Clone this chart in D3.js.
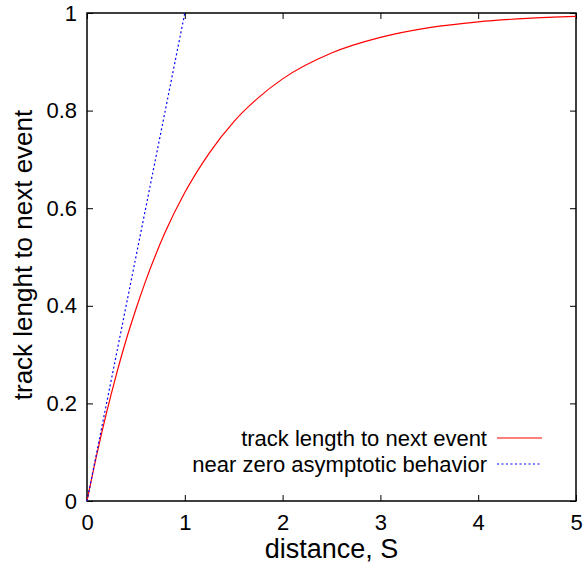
<!DOCTYPE html>
<html>
<head>
<meta charset="utf-8">
<script src="https://cdn.jsdelivr.net/npm/d3@7"></script>
<style>
  body { margin: 0; background: #fff; }
  text { font-family: "Liberation Sans", Arial, Helvetica, sans-serif; fill: #000; }
</style>
</head>
<body>
<svg id="chart" width="587" height="569"></svg>
<script>
// values
var curveX = [0, 0.1, 0.2, 0.3, 0.4, 0.5, 0.6, 0.8, 1.0, 1.25, 1.5, 1.75, 2.0, 2.5, 3.0, 3.5, 4.0, 4.5, 5.0];
var curveY = [0, 0.095, 0.181, 0.259, 0.33, 0.393, 0.451, 0.551, 0.632, 0.713, 0.777, 0.826, 0.865, 0.918, 0.95, 0.97, 0.982, 0.989, 0.993];
var asymX = [0, 1];
var asymY = [0, 1];
var xTicks = [0, 1, 2, 3, 4, 5];
var yTicks = [0, 0.2, 0.4, 0.6, 0.8, 1];
var seriesNames = ["track length to next event", "near zero asymptotic behavior"];

(function () {
    var marginLeft = 87, marginRight = 576, marginTop = 13, marginBottom = 501;
    var tickLen = 6;

    var svg = d3.select("#chart");
    var x = d3.scaleLinear().domain([0, 5]).range([marginLeft, marginRight]);
    var y = d3.scaleLinear().domain([0, 1]).range([marginBottom, marginTop]);

    // ticks on all four sides, gnuplot style
    var tickFmt = function(d) { return String(+d.toFixed(1)); };
    svg.append("g").attr("transform", "translate(0," + marginBottom + ")")
        .call(d3.axisBottom(x).tickValues(xTicks).tickSize(-tickLen).tickPadding(13).tickFormat(tickFmt));
    svg.append("g").attr("transform", "translate(0," + marginTop + ")")
        .call(d3.axisTop(x).tickValues(xTicks).tickSize(-tickLen).tickFormat(""));
    svg.append("g").attr("transform", "translate(" + marginLeft + ",0)")
        .call(d3.axisLeft(y).tickValues(yTicks).tickSize(-tickLen).tickPadding(10).tickFormat(tickFmt));
    svg.append("g").attr("transform", "translate(" + marginRight + ",0)")
        .call(d3.axisRight(y).tickValues(yTicks).tickSize(-tickLen).tickFormat(""));

    svg.selectAll(".domain").remove();
    svg.selectAll(".tick line").attr("stroke", "#000").attr("stroke-width", 1);
    svg.selectAll(".tick text").style("font-size", "22px")
        .style("font-family", "'Liberation Sans', Arial, sans-serif").attr("fill", "#000");

    svg.append("rect")
        .attr("x", marginLeft).attr("y", marginTop)
        .attr("width", marginRight - marginLeft).attr("height", marginBottom - marginTop)
        .attr("fill", "none").attr("stroke", "#000").attr("stroke-width", 1.5);

    var line = d3.line()
        .x(function(d) { return x(d[0]); })
        .y(function(d) { return y(d[1]); });

    svg.append("path")
        .datum(d3.zip(curveX, curveY))
        .attr("d", line.curve(d3.curveMonotoneX))
        .attr("fill", "none").attr("stroke", "#ff0000").attr("stroke-width", 1.2);

    svg.append("path")
        .datum(d3.zip(asymX, asymY))
        .attr("d", line.curve(d3.curveLinear))
        .attr("fill", "none").attr("stroke", "#0000ff").attr("stroke-width", 1.2)
        .attr("stroke-dasharray", "2,2.5");

    // legend
    var legendY = [438, 464];
    var styles = [{stroke: "#ff0000", dash: null}, {stroke: "#0000ff", dash: "2,2.5"}];
    seriesNames.forEach(function(name, i) {
        svg.append("text")
            .attr("x", 487).attr("y", legendY[i] + 8)
            .attr("text-anchor", "end")
            .style("font-size", "22px")
            .text(name);
        svg.append("line")
            .attr("x1", 497).attr("x2", 542)
            .attr("y1", legendY[i]).attr("y2", legendY[i])
            .attr("stroke", styles[i].stroke).attr("stroke-width", 1.2)
            .attr("stroke-dasharray", styles[i].dash);
    });

    // axis titles
    svg.append("text")
        .attr("x", (marginLeft + marginRight) / 2).attr("y", 558)
        .attr("text-anchor", "middle")
        .style("font-size", "27px")
        .text("distance, S");

    svg.append("text")
        .attr("transform", "translate(32,255) rotate(-90)")
        .attr("text-anchor", "middle")
        .style("font-size", "26px")
        .text("track lenght to next event");
})();
</script>
</body>
</html>
